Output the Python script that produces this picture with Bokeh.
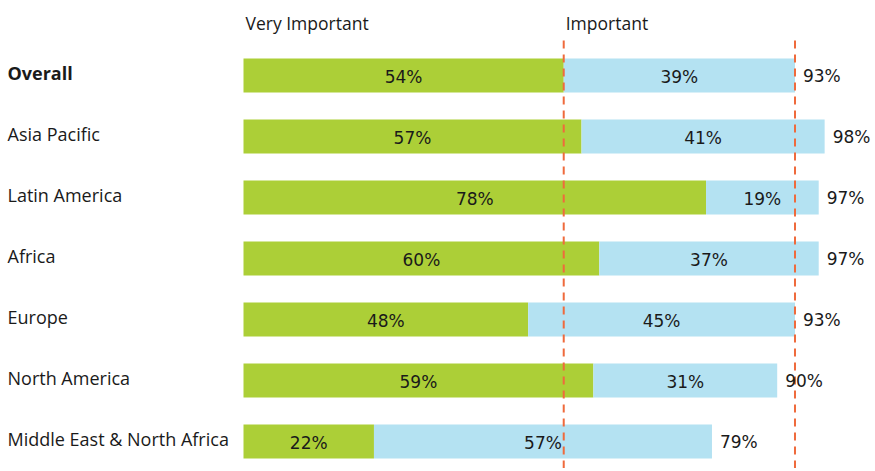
from bokeh.plotting import figure
from bokeh.models import Range1d, ColumnDataSource
from bokeh.core.properties import value
from bokeh.embed import file_html
from bokeh.resources import INLINE

regions = ["Overall", "Asia Pacific", "Latin America", "Africa", "Europe",
           "North America", "Middle East & North Africa"]
very_important = [54, 57, 78, 60, 48, 59, 22]
important = [39, 41, 19, 37, 45, 31, 57]
totals = [93, 98, 97, 97, 93, 90, 79]
headers = ["Very Important", "Important"]

GREEN = "#accf37"
BLUE = "#b4e2f2"
DASH = "#ef6a3c"
TXT = "#1a1a1a"

ORIGIN_X, ORIGIN_Y = 1, 0
W, H = 874, 468
px_per = 5.93
x0 = (ORIGIN_X - 244) / px_per
x1 = x0 + W / px_per
row_px = 61.0
y_top = (75 - ORIGIN_Y) / row_px
y_bot = y_top - H / row_px

p = figure(width=W, height=H, output_backend="svg", toolbar_location=None,
           x_range=Range1d(x0, x1), y_range=Range1d(y_bot, y_top),
           min_border=0, outline_line_color=None)
p.xaxis.visible = False
p.yaxis.visible = False
p.grid.visible = False
p.background_fill_color = "white"
p.border_fill_color = "white"

ys = [-i for i in range(len(regions))]
right_imp = [a + b for a, b in zip(very_important, important)]
src = ColumnDataSource(dict(
    y=ys, region=regions, vi=very_important, tot=totals,
    vi_mid=[v / 2 for v in very_important],
    imp_mid=[a + b / 2 for a, b in zip(very_important, important)],
    left_imp=list(very_important), right_imp=right_imp,
    vi_lbl=[f"{v}%" for v in very_important],
    imp_lbl=[f"{v}%" for v in important],
    tot_lbl=[f"{v}%" for v in totals],
    lab_x=[x0] * len(regions),
    weight=["bold" if r == "Overall" else "normal" for r in regions],
))

bh = 34 / row_px
p.hbar(y="y", left=0, right="vi", height=bh, fill_color=GREEN, line_color=None, source=src)
p.hbar(y="y", left="left_imp", right="right_imp", height=bh, fill_color=BLUE, line_color=None, source=src)

ref_vals = [very_important[0], totals[0]]
p.segment(x0=ref_vals, x1=ref_vals, y0=[(75 - 40) / row_px] * 2, y1=[y_bot] * 2,
          line_color=DASH, line_width=2, line_dash="8 6")

num_font = value("DejaVu Sans")
lab_font = value("Open Sans")
for xcol, tcol in (("vi_mid", "vi_lbl"), ("imp_mid", "imp_lbl")):
    p.text(x=xcol, y="y", text=tcol, source=src, text_align="center",
           text_baseline="middle", text_font=num_font, text_font_size="17px",
           text_color=TXT, y_offset=1)
p.text(x="right_imp", y="y", text="tot_lbl", source=src, text_align="left",
       text_baseline="middle", text_font=num_font, text_font_size="17px",
       text_color=TXT, x_offset=8, y_offset=0)
p.text(x="lab_x", y="y", text="region", source=src, text_align="left",
       text_baseline="middle", text_font=lab_font, text_font_size="18px",
       text_font_style="weight", text_color=TXT, x_offset=7, y_offset=-3)

hy = (75 - 22) / row_px
p.text(x=[0, very_important[0]], y=[hy, hy], text=headers, text_align="left",
       text_baseline="middle", text_font=lab_font, text_font_size="17.5px",
       text_color=TXT, x_offset=2)

open("out.html", "w").write(file_html(p, INLINE))
